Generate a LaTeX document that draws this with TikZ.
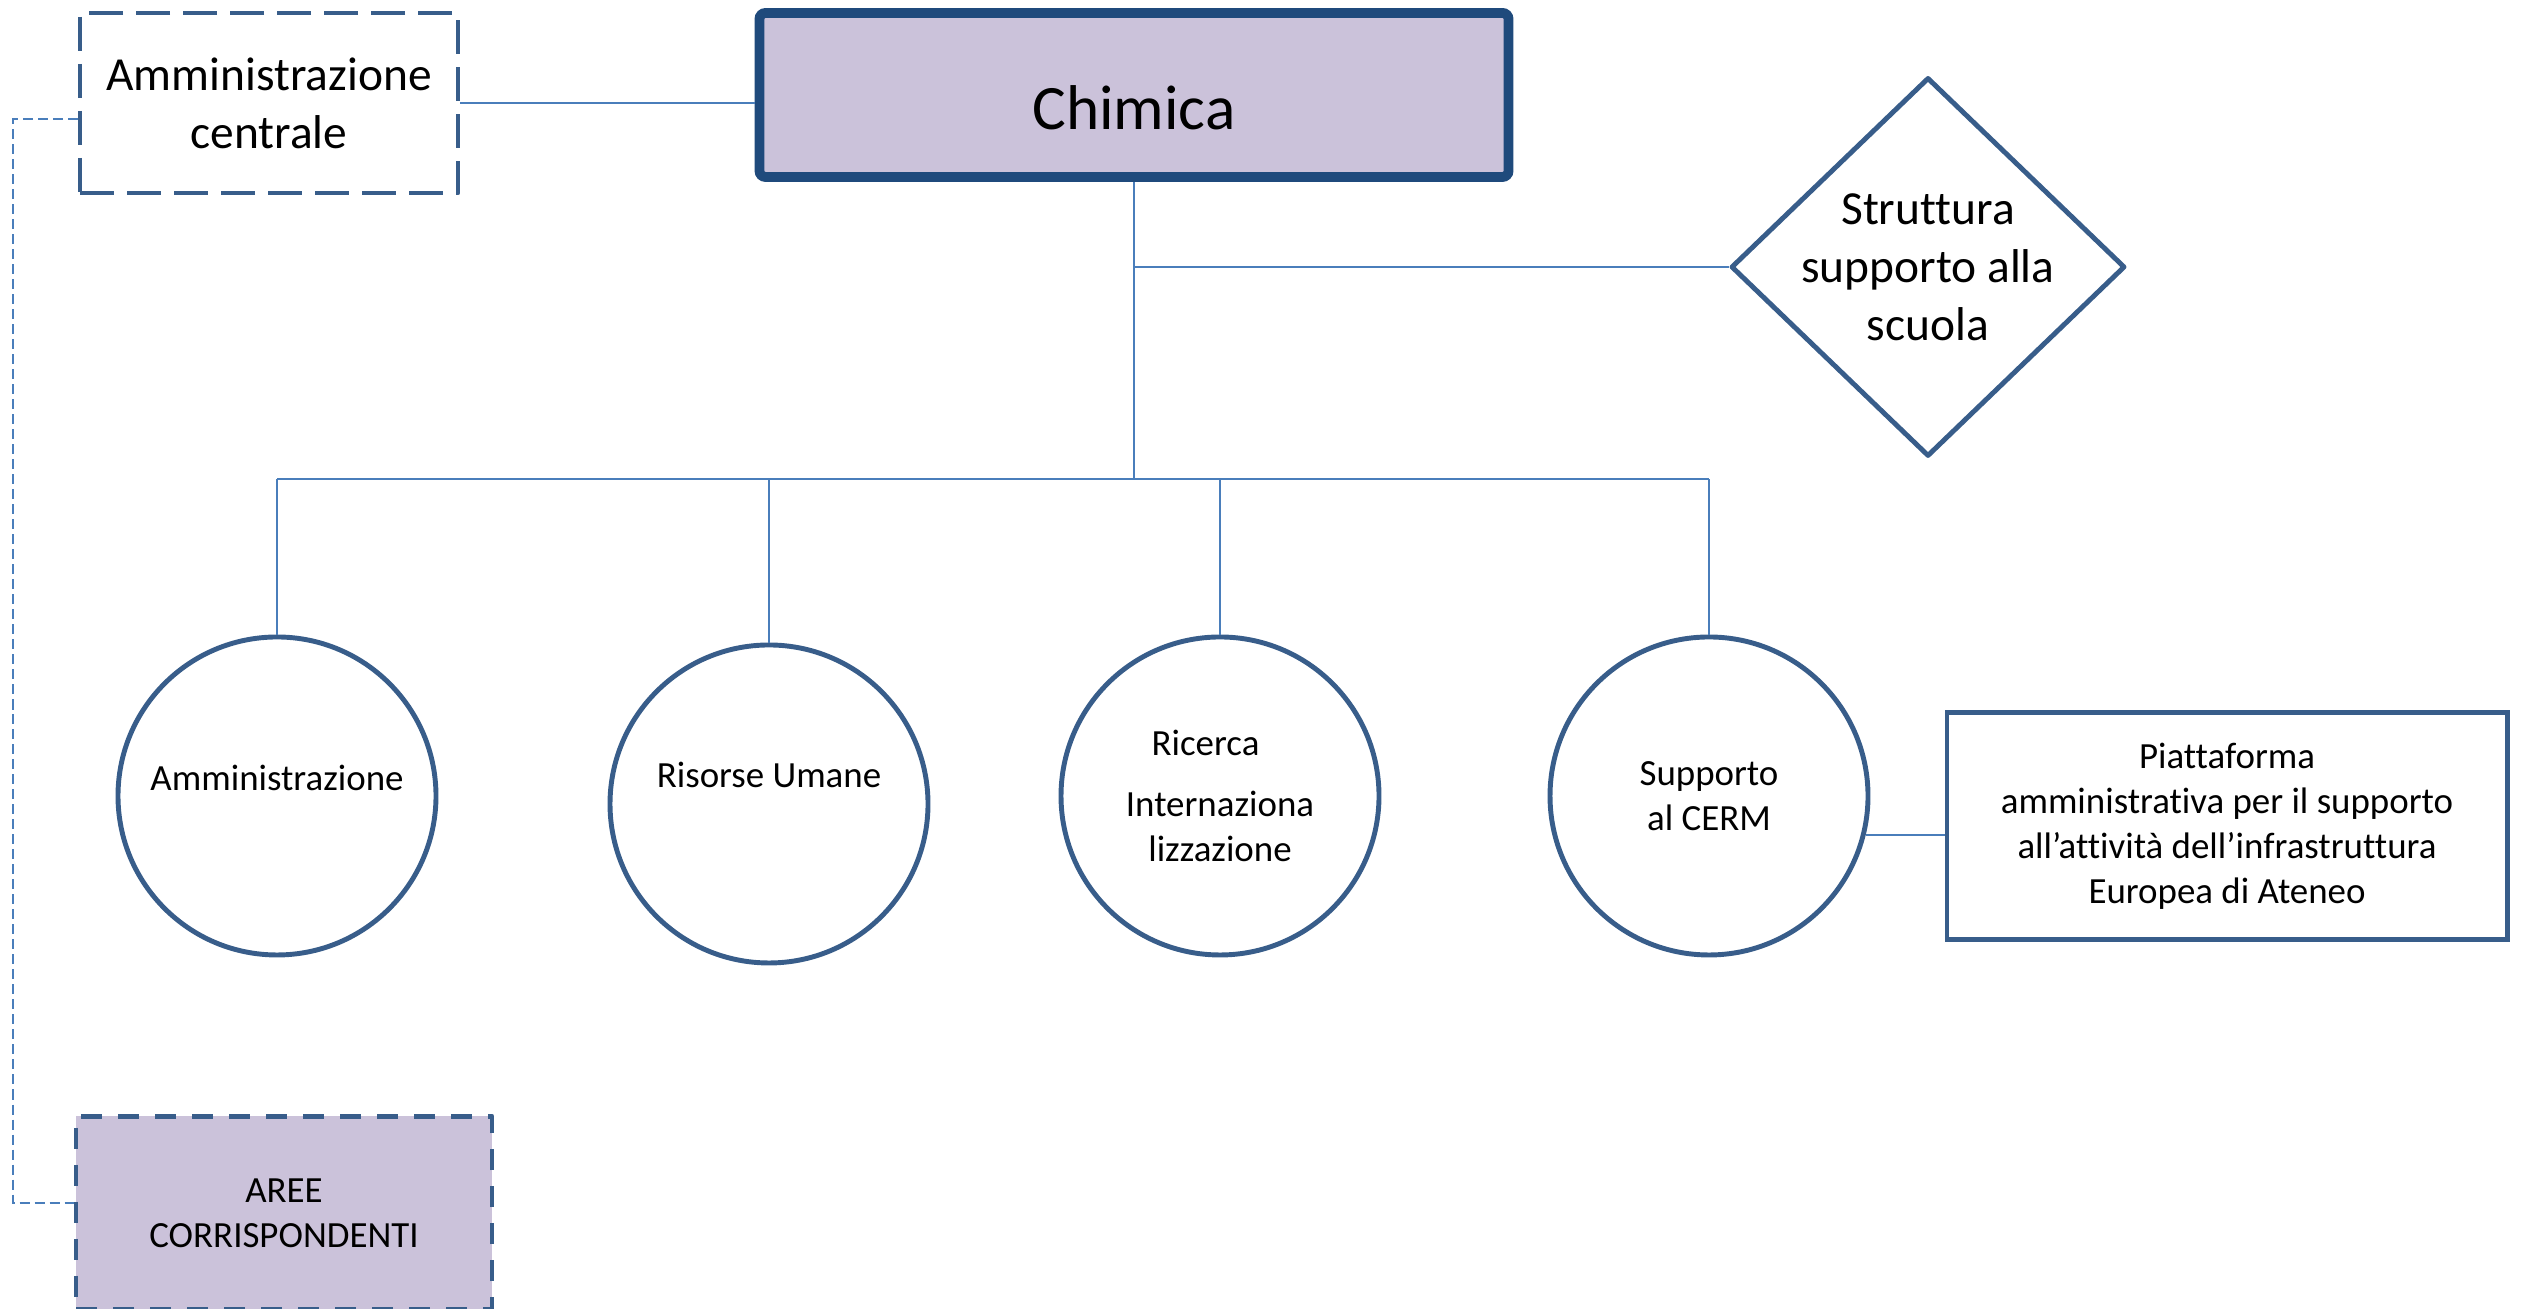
\documentclass[tikz,border=0pt]{standalone}
\usepackage{fontspec}
\setmainfont{Carlito}[Ligatures={TeX,NoCommon}]
\usetikzlibrary{shapes.geometric,calc,positioning}
\definecolor{boxblue}{HTML}{385D8A}
\definecolor{headblue}{HTML}{1F4A7C}
\definecolor{lineblue}{HTML}{4A7EBB}
\definecolor{lilac}{HTML}{CBC2DA}
\tikzstyle{big} = [font=\fontsize{13.5}{16.5}\selectfont]
\tikzstyle{small} = [font=\fontsize{10.5}{12.8}\selectfont]
\tikzstyle{central} = [rectangle, draw=boxblue, line width=1.4pt, line join=round, dash pattern=on 0.34cm off 0.13cm, minimum width=3.78cm, minimum height=1.80cm, align=center, big]
\tikzstyle{dept} = [rectangle, draw=headblue, line width=2.8pt, rounded corners=0.6mm, fill=lilac, minimum width=7.49cm, minimum height=1.64cm, font=\fontsize{18}{22}\selectfont]
\tikzstyle{school} = [diamond, draw=boxblue, line width=1.4pt, line join=round, minimum width=3.94cm, minimum height=3.79cm, inner sep=0pt]
\tikzstyle{office} = [circle, draw=boxblue, line width=1.4pt, minimum size=3.18cm, inner sep=0pt, align=center, small]
\tikzstyle{infra} = [rectangle, draw=boxblue, line width=1.4pt, minimum width=5.60cm, minimum height=2.27cm, align=center, small]
\tikzstyle{areas} = [rectangle, draw=boxblue, line width=1.4pt, line join=round, dash pattern=on 0.21cm off 0.16cm, fill=lilac, minimum width=4.16cm, minimum height=1.93cm, align=center, small]
\tikzstyle{link} = [draw=lineblue, line width=0.8pt]
\tikzstyle{feed} = [draw=lineblue, line width=0.6pt, dash pattern=on 0.1cm off 0.05cm]

\begin{document}
\begin{tikzpicture} %[every node/.style={draw}]
\useasboundingbox (0,0) rectangle (25.21,13.09);
\draw (2.69,12.06) node (amm) [central] {Amministrazione\\centrale};
\draw (11.34,12.14) node (chim) [dept] {\raisebox{-0.13cm}[\height][0pt]{Chimica}};
\draw (19.28,10.42) node (scuola) [school, label={[align=center,big]center:Struttura\\supporto alla\\scuola}] {};
\draw (2.77,5.13) node (c1) [office] {\raisebox{0.36cm}{Amministrazione}};
\draw (7.69,5.05) node (c2) [office] {\raisebox{0.58cm}{Risorse Umane}};
\draw (12.20,5.13) node (c3) [office] {Ricerca\hspace*{0.29cm}\\[0.16cm]Internaziona\\lizzazione};
\draw (17.09,5.13) node (c4) [office] {Supporto\\al CERM};
\draw (22.27,4.83) node (piatt) [infra] {Piattaforma\\amministrativa per il supporto\\all’attività dell’infrastruttura\\Europea di Ateneo};
\draw (2.84,0.96) node (aree) [areas] {AREE\\CORRISPONDENTI};
\coordinate (bus) at (11.32,8.30);
\coordinate (side) at (0.13,6);
\draw [link] (amm.east)--(amm.east -| chim.west);
\draw [link] (chim.south)--(chim.south |- bus);
\draw [link] (scuola.west)--(scuola.west -| chim.south);
\draw [link] (c1.north |- bus)--(c4.north |- bus);
\draw [link] (c1.north)--(c1.north |- bus);
\draw [link] (c2.north)--(c2.north |- bus);
\draw [link] (c3.north)--(c3.north |- bus);
\draw [link] (c4.north)--(c4.north |- bus);
\draw [link] (c4.-14)--(c4.-14 -| piatt.west);
\draw [feed] ([yshift=-1.6mm]amm.west) -| (side) |- ([yshift=1mm]aree.west);
\end{tikzpicture}
\end{document}
